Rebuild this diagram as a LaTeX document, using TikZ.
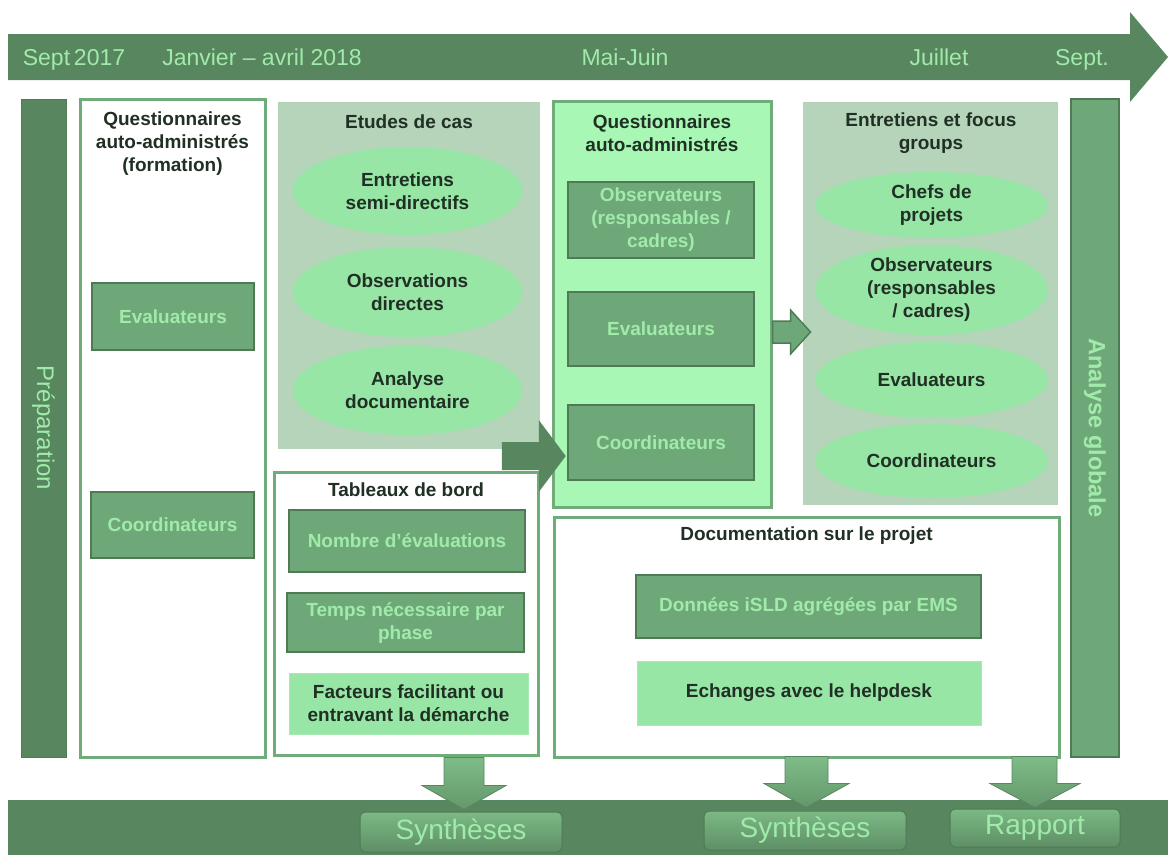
\documentclass[tikz,border=0pt]{standalone}
\usepackage{fontspec}
\setmainfont{Liberation Sans}
\usetikzlibrary{shapes.geometric,calc}
\definecolor{dkg}{RGB}{88,135,95}
\definecolor{midg}{RGB}{111,168,120}
\definecolor{bord}{RGB}{78,122,86}
\definecolor{txtl}{RGB}{160,235,170}
\definecolor{ellc}{RGB}{152,230,166}
\definecolor{pan}{RGB}{181,212,186}
\definecolor{brt}{RGB}{168,247,180}
\definecolor{pbord}{RGB}{112,172,122}
\definecolor{txtd}{RGB}{32,48,36}
\newcommand\labfont{\fontsize{19}{23}\selectfont\bfseries}
\tikzset{
  darkbox/.style={draw=bord, line width=2.5pt, fill=midg, text=txtl, font=\labfont, align=center, inner sep=0pt},
  lightbox/.style={draw=ellc!85!white, line width=1pt, fill=ellc, text=txtd, font=\labfont, align=center, inner sep=0pt},
  panelbox/.style={draw=pbord, line width=3pt, fill=white, inner sep=0pt},
  greypanel/.style={fill=pan, inner sep=0pt},
  ellnode/.style={ellipse, fill=ellc, text=txtd, font=\labfont, align=center, inner sep=0pt},
  titletext/.style={text=txtd, font=\labfont, align=center, inner sep=0pt},
  timetext/.style={text=txtl, font=\fontsize{23}{27}\selectfont, inner sep=0pt, anchor=base},
  btn/.style={rounded corners=5pt, top color=midg!75!txtl, bottom color=midg!85!black, draw=bord, line width=1pt, text=txtl, font=\fontsize{28}{32}\selectfont, inner sep=0pt},
  downarrow/.style={top color=midg!70!txtl, bottom color=midg!90!black, draw=midg!80!black, line width=0.8pt}
}
\begin{document}
\begin{tikzpicture}[x=1pt,y=-1pt]
\useasboundingbox (0,0) rectangle (1168,855);
\fill[white] (0,0) rectangle (1168,855);

% timeline arrow
\fill[dkg] (8,34) -- (1130,34) -- (1130,12) -- (1168,57) -- (1130,102) -- (1130,80) -- (8,80) -- cycle;
\node[timetext] (t1) at (74,65) {Sept\,2017};
\node[timetext] (t2) at (262,65) {Janvier – avril 2018};
\node[timetext] (t3) at (625,65) {Mai-Juin};
\node[timetext] (t4) at (939,65) {Juillet};
\node[timetext] (t5) at (1082,65) {Sept.};

% bottom band
\fill[dkg] (8,800) rectangle (1168,855);

% Préparation bar
\node[fill=dkg, draw=bord, line width=1pt, rotate=-90, minimum width=658, minimum height=45, inner sep=0pt, text=txtl, font=\fontsize{24}{28}\selectfont] (prep) at (43.5,428) {Préparation};

% Analyse globale bar
\node[fill=midg, draw=bord, line width=2pt, rotate=-90, minimum width=658, minimum height=48, inner sep=0pt, text=txtl, font=\fontsize{23.5}{27}\selectfont\bfseries] (ana) at (1095,428) {Analyse globale};

% Box 1: questionnaires formation
\node[panelbox, minimum width=185, minimum height=658] (qf) at (172.5,428) {};
\node[titletext] (qft) at (172.5,144) {Questionnaires\\auto-administrés\\(formation)};
\node[darkbox, minimum width=162, minimum height=67] (qfe) at (173,316.5) {Evaluateurs};
\node[darkbox, minimum width=163, minimum height=66] (qfc) at (172.5,525) {Coordinateurs};

% Etudes de cas
\node[greypanel, minimum width=262, minimum height=347] (etu) at (409,275.5) {};
\node[titletext] (etut) at (409,122) {Etudes de cas};
\node[ellnode, minimum width=230, minimum height=88] (e1) at (407.5,191) {Entretiens\\semi-directifs};
\node[ellnode, minimum width=230, minimum height=90] (e2) at (407.5,292) {Observations\\directes};
\node[ellnode, minimum width=230, minimum height=89] (e3) at (407.5,390.5) {Analyse\\documentaire};

% Tableaux de bord
\node[panelbox, minimum width=264, minimum height=283] (tab) at (406,613.5) {};
\node[titletext] (tabt) at (406,490) {Tableaux de bord};
\node[darkbox, minimum width=236, minimum height=62] (tb1) at (407,541) {Nombre d’évaluations};
\node[darkbox, minimum width=237, minimum height=59] (tb2) at (405.5,622.5) {Temps nécessaire par\\phase};
\node[lightbox, minimum width=239, minimum height=61] (tb3) at (408.5,703.5) {Facteurs facilitant ou\\entravant la démarche};

% Questionnaires auto-administrés
\node[draw=pbord, line width=3pt, fill=brt, minimum width=218, minimum height=406, inner sep=0pt] (qa) at (662,304) {};
\node[titletext] (qat) at (662,133.5) {Questionnaires\\auto-administrés};
\node[darkbox, minimum width=186, minimum height=76] (qao) at (661,220) {Observateurs\\(responsables /\\cadres)};
\node[darkbox, minimum width=186, minimum height=74] (qae) at (661,329) {Evaluateurs};
\node[darkbox, minimum width=186, minimum height=75] (qac) at (661,442.5) {Coordinateurs};

% big arrow Etudes -> Coordinateurs
\fill[dkg] ($(qac.west)+(-1,13.5)$) -- ++(-27,-36) -- ++(0,22) -- ++(-37,0) -- ++(0,28) -- ++(37,0) -- ++(0,22) -- cycle;

% Entretiens et focus groups
\node[greypanel, minimum width=255, minimum height=403] (ent) at (930.5,303.5) {};
\node[titletext] (entt) at (931,133.5) {Entretiens et focus\\groups};
\node[ellnode, minimum width=233, minimum height=66] (f1) at (931.5,205) {Chefs de\\projets};
\node[ellnode, minimum width=233, minimum height=84] (f2) at (931.5,290) {Observateurs\\(responsables\\/ cadres)};
\node[ellnode, minimum width=233, minimum height=76] (f3) at (931.5,380) {Evaluateurs};
\node[ellnode, minimum width=233, minimum height=74] (f4) at (931.5,461) {Coordinateurs};

% small arrow QA -> Entretiens
\filldraw[fill=midg, draw=bord, line width=1.5pt] ($(qa.east)+(38,28)$) -- ++(-20,-22) -- ++(0,11) -- ++(-18,0) -- ++(0,22) -- ++(18,0) -- ++(0,11) -- cycle;

% Documentation sur le projet
\node[panelbox, minimum width=505, minimum height=240] (doc) at (806.5,637) {};
\node[titletext] (doct) at (806.5,536) {Documentation sur le projet};
\node[darkbox, minimum width=345, minimum height=63] (d1) at (808.5,606.5) {Données iSLD agrégées par EMS};
\node[lightbox, minimum width=344, minimum height=64] (d2) at (809,693) {Echanges avec le helpdesk};

% buttons
\node[btn, minimum width=202, minimum height=40] (s1) at (461,832) {Synthèses};
\node[btn, minimum width=202, minimum height=39] (s2) at (805,830.5) {Synthèses};
\node[btn, minimum width=170, minimum height=38] (rp) at (1035,828) {Rapport};

% down arrows
\draw[downarrow] ($(s1.north)+(3,-2)$) -- ++(-42,-24) -- ++(22,0) -- ++(0,-28) -- ++(40,0) -- ++(0,28) -- ++(22,0) -- cycle;
\draw[downarrow] ($(s2.north)+(1,-3)$) -- ++(-42,-24) -- ++(21,0) -- ++(0,-27) -- ++(43,0) -- ++(0,27) -- ++(21,0) -- cycle;
\draw[downarrow] ($(rp.north)+(0,-1)$) -- ++(-45,-24) -- ++(22,0) -- ++(0,-27) -- ++(45,0) -- ++(0,27) -- ++(23,0) -- cycle;
\end{tikzpicture}
\end{document}
